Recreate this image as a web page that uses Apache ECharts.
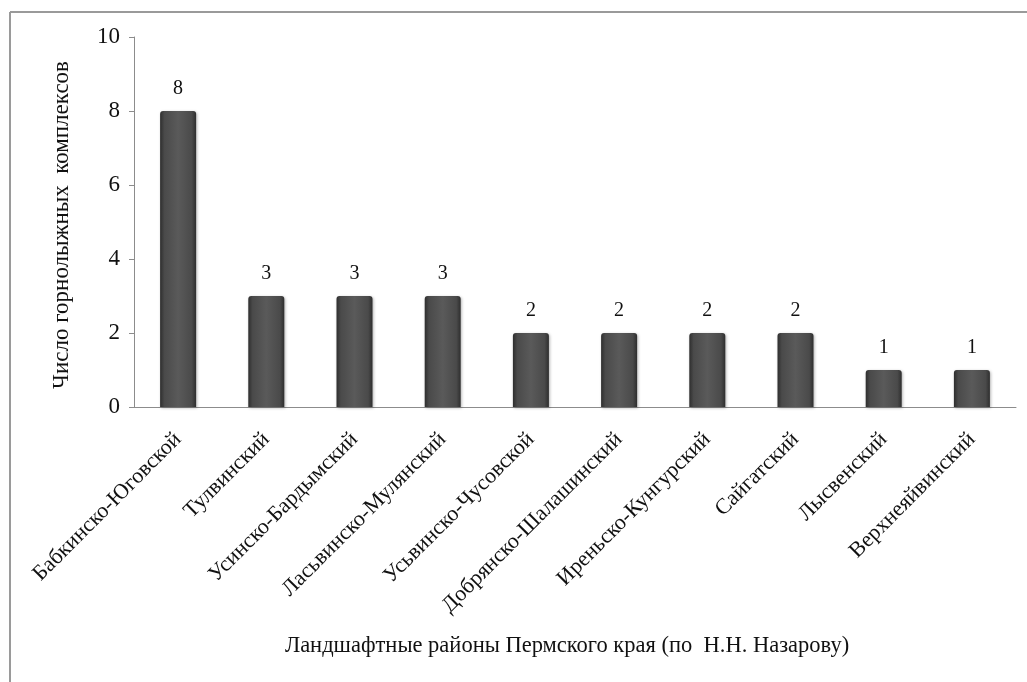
<!DOCTYPE html>
<html><head><meta charset="utf-8">
<script src="https://cdn.jsdelivr.net/npm/echarts@6/dist/echarts.min.js"></script>
<style>html,body{margin:0;padding:0;background:#fff}#c{width:1027px;height:682px}</style>
</head><body><div id="c"></div>
<script>
const categories = ["Бабкинско-Юговской","Тулвинский","Усинско-Бардымский","Ласьвинско-Мулянский","Усьвинско-Чусовской","Добрянско-Шалашинский","Иреньско-Кунгурский","Сайгатский","Лысвенский","Верхнеяйвинский"];
const values = [8,3,3,3,2,2,2,2,1,1];
const yTicks = {min:0, max:10, interval:2};
const yName = "Число горнолыжных  комплексов";
const xName = "Ландшафтные районы Пермского края (по  Н.Н. Назарову)";
const FONT = "Liberation Serif";
const chart = echarts.init(document.getElementById('c'));
const barColor = new echarts.graphic.LinearGradient(0,0,1,0,[
  {offset:0,color:'#2e2e2e'},{offset:0.12,color:'#4a4a4a'},{offset:0.5,color:'#5a5a5a'},{offset:0.88,color:'#4a4a4a'},{offset:1,color:'#2e2e2e'}]);
chart.setOption({
  animation:false,
  grid:{left:134,right:11,top:37,bottom:275,containLabel:false},
  xAxis:{type:'category',data:categories,
    axisLine:{lineStyle:{color:'#8c8c8c',width:1}},
    axisTick:{show:false},
    axisLabel:{rotate:45,interval:0,margin:29,color:'#111',fontFamily:FONT,fontSize:22}},
  yAxis:{type:'value',min:yTicks.min,max:yTicks.max,interval:yTicks.interval,
    splitLine:{show:false},
    axisLine:{show:true,lineStyle:{color:'#8c8c8c'}},
    axisTick:{show:true,length:5,lineStyle:{color:'#8c8c8c'}},
    axisLabel:{color:'#111',fontFamily:FONT,fontSize:23,margin:14}},
  series:[{type:'bar',data:values,barWidth:36,
    itemStyle:{color:barColor,borderRadius:[3,3,0,0],shadowColor:'rgba(0,0,0,0.3)',shadowBlur:3,shadowOffsetX:1,shadowOffsetY:1},
    label:{show:true,position:'top',distance:12,color:'#111',fontFamily:FONT,fontSize:20}}],
  graphic:[
    {type:'line',shape:{x1:10,y1:12,x2:1027,y2:12},style:{stroke:'#9a9a9a',lineWidth:2}},
    {type:'line',shape:{x1:10,y1:12,x2:10,y2:682},style:{stroke:'#9a9a9a',lineWidth:2}},
    {type:'text',x:62,y:225,rotation:Math.PI/2,style:{text:yName,fontFamily:FONT,fontSize:23,fill:'#111',align:'center',verticalAlign:'middle'}},
    {type:'text',x:567,y:646,style:{text:xName,fontFamily:FONT,fontSize:22.5,fill:'#111',align:'center',verticalAlign:'middle'}}
  ]
});
</script></body></html>
